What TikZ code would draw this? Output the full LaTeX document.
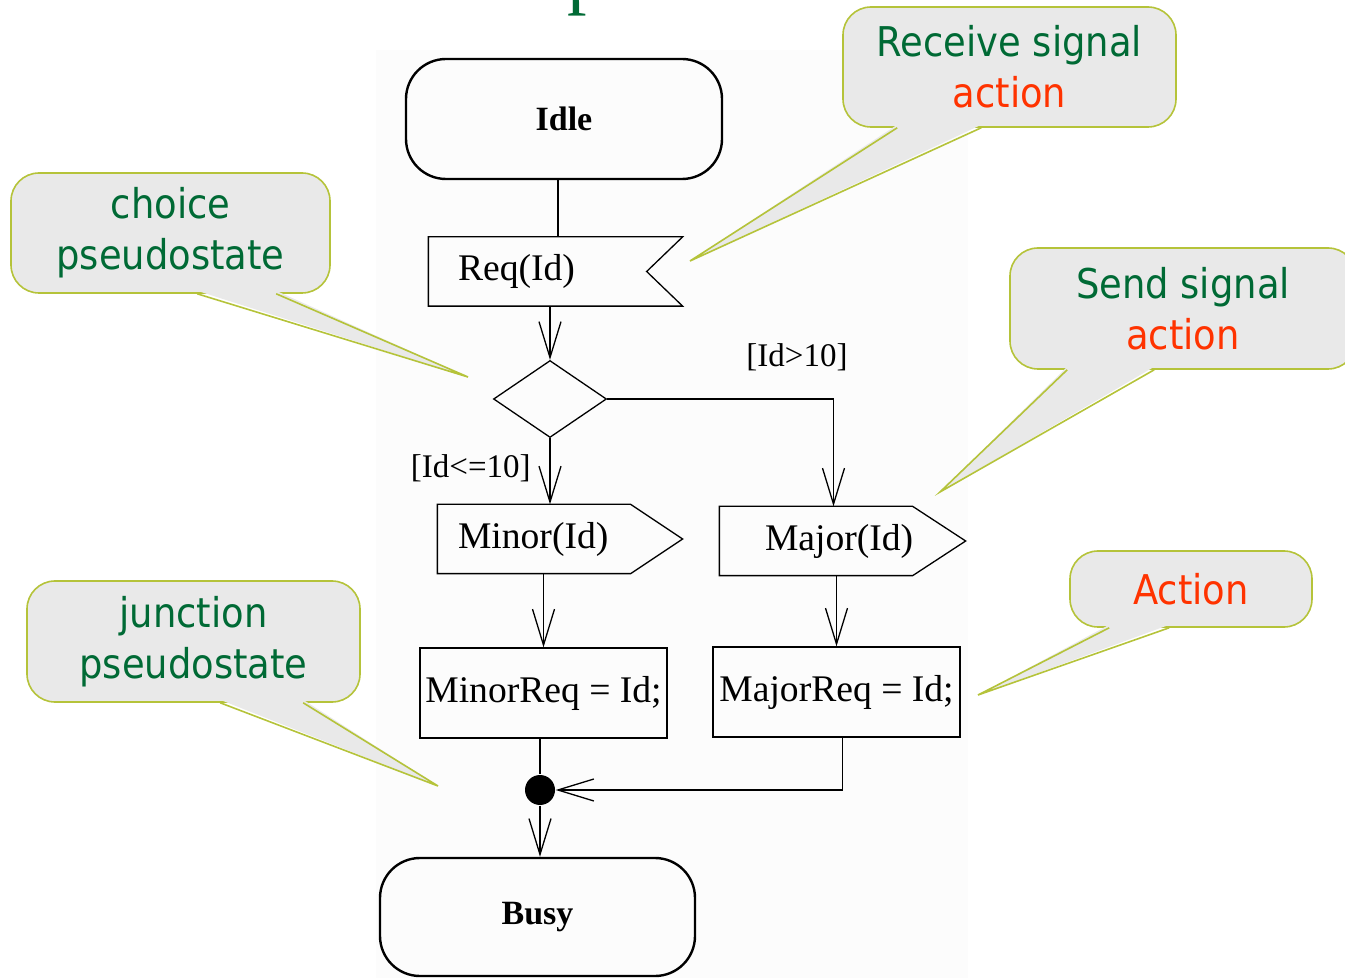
\documentclass[tikz,border=0pt]{standalone}
\usepackage{fontspec}
\setmainfont{Liberation Serif}
\newfontfamily\notefont[FakeStretch=0.9]{DejaVu Sans}
\usetikzlibrary{arrows.meta,shapes.geometric}

\definecolor{notefill}{HTML}{E9E9E9}
\definecolor{noteline}{HTML}{B5C33A}
\definecolor{notegreen}{HTML}{006A35}
\definecolor{notered}{HTML}{FF3300}

% pointer of a note: node, left and right foot (from the node's left side), tip
\newcommand{\notetail}[4]{%
	\fill[notefill] ([xshift=#2,yshift=1.5pt]#1.south west) -- (#4) -- ([xshift=#3,yshift=1.5pt]#1.south west) -- cycle;
	\draw[noteline,line width=0.8pt] ([xshift=#2]#1.south west) -- (#4) -- ([xshift=#3]#1.south west);}

\begin{document}
\begin{tikzpicture}[x=0.5pt,y=-0.5pt,line width=0.65pt,>={Straight Barb[length=18pt,width=11pt]},
                    state/.style={draw,line width=1.2pt,rounded corners=20pt,minimum width=158pt,minimum height=60pt,font=\bfseries\fontsize{17}{20}\selectfont},
                    act/.style={draw,minimum width=123.5pt,minimum height=45pt,inner xsep=1pt,font=\fontsize{18.8}{22}\selectfont},
                    sig/.style={minimum height=34pt,align=left,font=\fontsize{18.8}{22}\selectfont},
                    choice/.style={diamond,draw,inner sep=0pt,minimum width=56.5pt,minimum height=38.5pt},
                    junc/.style={circle,fill,inner sep=0pt,minimum size=15pt},
                    guard/.style={font=\fontsize{16.5}{20}\selectfont},
                    note/.style={draw=noteline,fill=notefill,line width=0.8pt,rounded corners=14pt,align=center,
                                 text=notegreen,font=\notefont\fontsize{20.5}{25.5}\selectfont}]

	\useasboundingbox (0,0) rectangle (1345,978);
	\fill[black!1] (376,50) rectangle (968,978);
	\node[anchor=base west,inner sep=0pt,text=notegreen,font=\fontsize{39}{40}\selectfont] (title) at (567,0) {p};

	\node[state] (idle) at (564,119) {Idle};
	\node[sig,inner xsep=14.5pt,text width=97.5pt] (req) at (555.5,271.5) {Req(Id)};
	\node[choice] (split) at (550,399) {};
	\node[sig,inner xsep=10pt,text width=102pt] (minor) at (560,539) {Minor(Id)};
	\node[sig,inner xsep=22.5pt,text width=77.5pt] (major) at (842.5,541) {Major(Id)};
	\node[act] (minorreq) at (543.5,693) {MinorReq = Id;};
	\node[act] (majorreq) at (836.5,692) {MajorReq = Id;};
	\node[junc] (join) at (540,790) {};
	\node[state,minimum width=157.5pt,minimum height=59pt] (busy) at (537.5,917) {Busy};

	\draw (req.north west) -- (req.north east) -- ([xshift=-18pt]req.east) -- (req.south east) -- (req.south west) -- cycle;
	\draw (minor.north west) -- ([xshift=-26pt]minor.north east) -- (minor.east) -- ([xshift=-26pt]minor.south east) -- (minor.south west) -- cycle;
	\draw (major.north west) -- ([xshift=-26.5pt]major.north east) -- (major.east) -- ([xshift=-26.5pt]major.south east) -- (major.south west) -- cycle;

	\draw ([xshift=-3pt]idle.south) -- ([xshift=-3pt]idle.south |- req.north);
	\draw[->] (split.north |- req.south) -- (split.north);
	\draw[->] (split.south) -- (split.south |- minor.north) node[guard,pos=0.45,left=6pt] {[Id<=10]};
	\draw[->] (split.east) -| ([xshift=-4.5pt]major.north);
	\node[guard] (gt) at (797,357) {[Id>10]};
	\draw[->] (minorreq.north |- minor.south) -- (minorreq.north);
	\draw[->] (majorreq.north |- major.south) -- (majorreq.north);
	\draw (join |- minorreq.south) -- (join);
	\draw[->] ([xshift=3pt]majorreq.south) |- (join);
	\draw[->] (join) -- (join |- busy.north);

	\coordinate (recvtip) at (690,261);
	\coordinate (choicetip) at (468,377);
	\coordinate (sendtip) at (940,492);
	\coordinate (junctip) at (438,786);
	\coordinate (acttip) at (978,695);

	\node[note,minimum width=166.5pt,minimum height=60pt] (recvnote) at (1009.5,67) {Receive signal\\\textcolor{notered}{action}};
	\notetail{recvnote}{27.5pt}{69.5pt}{recvtip}
	\node[note,minimum width=159.5pt,minimum height=60pt] (choicenote) at (170.5,233) {choice\\pseudostate};
	\notetail{choicenote}{93.5pt}{133pt}{choicetip}
	\node[note,minimum width=173pt,minimum height=60.5pt] (sendnote) at (1183,308.5) {Send signal\\\textcolor{notered}{action}};
	\notetail{sendnote}{29pt}{72.5pt}{sendtip}
	\node[note,minimum width=166.5pt,minimum height=60.5pt] (junctnote) at (193.5,641.5) {junction\\pseudostate};
	\notetail{junctnote}{97pt}{138.5pt}{junctip}
	\node[note,minimum width=121pt,minimum height=38pt,text=notered] (actnote) at (1191,589) {Action};
	\notetail{actnote}{20pt}{50pt}{acttip}

\end{tikzpicture}
\end{document}
